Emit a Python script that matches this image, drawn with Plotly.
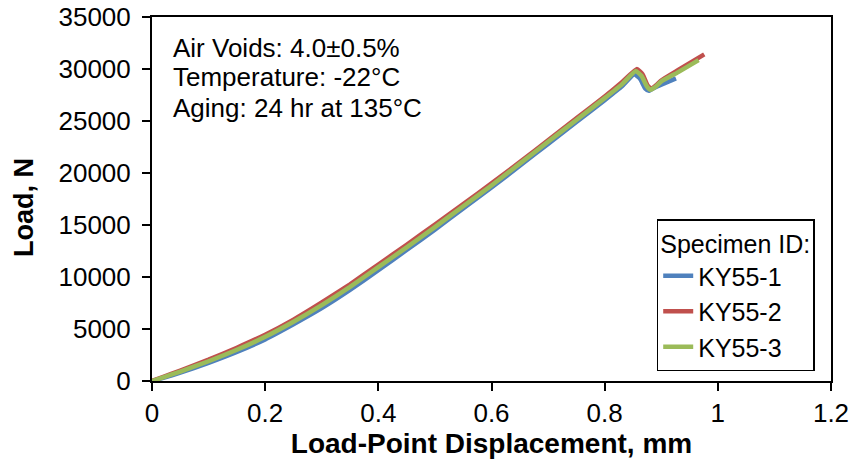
import plotly.graph_objects as go

# Displacement (mm) and load (N)
x_ky55_1 = [0, 0.02, 0.05, 0.10, 0.15, 0.20, 0.25, 0.30, 0.35, 0.40, 0.45, 0.50, 0.55, 0.60,
            0.65, 0.70, 0.75, 0.80, 0.83, 0.852, 0.862, 0.872, 0.878, 0.888, 0.90, 0.926]
y_ky55_1 = [0, 300, 800, 1750, 2800, 4000, 5450, 7000, 8750, 10650, 12600, 14550, 16600, 18600,
            20700, 22800, 24900, 27000, 28300, 29500, 29100, 28100, 27900, 28200, 28500, 29100]

x_ky55_2 = [0, 0.02, 0.05, 0.10, 0.15, 0.20, 0.25, 0.30, 0.35, 0.40, 0.45, 0.50, 0.55, 0.60,
            0.65, 0.70, 0.75, 0.80, 0.83, 0.857, 0.867, 0.876, 0.882, 0.89, 0.90, 0.93, 0.976]
y_ky55_2 = [0, 400, 1000, 2050, 3200, 4450, 5900, 7550, 9300, 11200, 13100, 15050, 17000, 19000,
            21050, 23150, 25250, 27350, 28700, 30000, 29500, 28400, 28100, 28400, 28900, 29900, 31400]

x_ky55_3 = [0, 0.02, 0.05, 0.10, 0.15, 0.20, 0.25, 0.30, 0.35, 0.40, 0.45, 0.50, 0.55, 0.60,
            0.65, 0.70, 0.75, 0.80, 0.83, 0.855, 0.865, 0.875, 0.881, 0.89, 0.90, 0.93, 0.966]
y_ky55_3 = [0, 350, 900, 1900, 3000, 4250, 5700, 7300, 9050, 10950, 12850, 14800, 16800, 18800,
            20900, 23000, 25100, 27200, 28500, 29800, 29350, 28300, 28000, 28300, 28800, 29700, 30850]

series_names = ["KY55-1", "KY55-2", "KY55-3"]
series_colors = ["#4F81BD", "#C0504D", "#9BBB59"]
x_ticks = [0, 0.2, 0.4, 0.6, 0.8, 1, 1.2]
x_tick_text = ["0", "0.2", "0.4", "0.6", "0.8", "1", "1.2"]
y_ticks = [0, 5000, 10000, 15000, 20000, 25000, 30000, 35000]
note_lines = ["Air Voids: 4.0±0.5%", "Temperature: -22°C", "Aging: 24 hr at 135°C"]
note_y = [0.914, 0.834, 0.750]

FONT = "Liberation Sans, Arial, sans-serif"

fig = go.Figure()
for xs, ys, name, col in zip([x_ky55_1, x_ky55_2, x_ky55_3],
                             [y_ky55_1, y_ky55_2, y_ky55_3],
                             series_names, series_colors):
    fig.add_trace(go.Scatter(x=xs, y=ys, mode="lines", name=name,
                             line=dict(color=col, width=4.5, shape="spline", smoothing=0.4)))

for t, yy in zip(note_lines, note_y):
    fig.add_annotation(x=0.028, y=yy, xref="paper", yref="paper",
                       text=t, showarrow=False, xanchor="left", yanchor="middle",
                       font=dict(family=FONT, size=26, color="black"))

# y-axis title placed as rotated text
fig.add_annotation(x=-0.1885, y=0.475, xref="paper", yref="paper",
                   text="<b>Load, N</b>", showarrow=False, textangle=-90,
                   xanchor="center", yanchor="middle",
                   font=dict(family=FONT, size=27, color="black"))

fig.update_layout(
    width=855, height=461,
    margin=dict(l=152, r=24, t=17, b=80),
    paper_bgcolor="white", plot_bgcolor="white",
    font=dict(family=FONT, color="black"),
    legend=dict(x=0.976, y=0.445, xanchor="right", yanchor="top",
                bordercolor="black", borderwidth=1.5, bgcolor="white",
                title=dict(text="Specimen ID:", font=dict(size=25, family=FONT)),
                font=dict(size=25, family=FONT), tracegroupgap=0),
    xaxis=dict(range=[0, 1.2], tickvals=x_ticks, ticktext=x_tick_text, automargin=False,
               showgrid=False, zeroline=False, showline=True, linecolor="black",
               linewidth=2, mirror=True, ticks="outside", ticklen=8, tickwidth=2,
               tickcolor="black", tickfont=dict(size=26, family=FONT),
               title=dict(text="<b>Load-Point Displacement, mm</b>", standoff=2,
                          font=dict(size=28, family=FONT))),
    yaxis=dict(range=[0, 35000], tickvals=y_ticks, tickformat="d", automargin=False,
               showgrid=False, zeroline=False, showline=True, linecolor="black",
               linewidth=2, mirror=True, ticks="outside", ticklen=8, tickwidth=2,
               tickcolor="black", tickfont=dict(size=26, family=FONT),
               ticklabelstandoff=6),
)

fig.write_html("out.html", config={"displayModeBar": False},
               post_script="document.body.style.margin='0px';")
